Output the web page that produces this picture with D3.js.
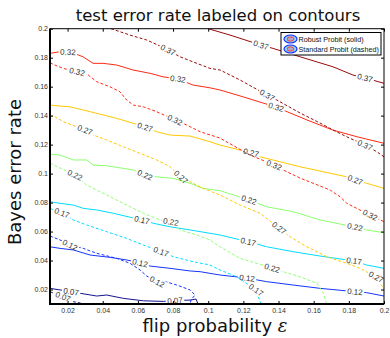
<!DOCTYPE html>
<html><head><meta charset="utf-8">
<script src="https://cdn.jsdelivr.net/npm/d3@7"></script>
<style>body{margin:0;background:#fff}</style>
</head><body><svg id="chart" width="390" height="338"></svg>
<script>
// ---------- data ----------
const xTicks = [0.02,0.04,0.06,0.08,0.1,0.12,0.14,0.16,0.18,0.2];
const xTickLabels = ["0.02","0.04","0.06","0.08","0.1","0.12","0.14","0.16","0.18","0.2"];
const yTicks = [0.02,0.04,0.06,0.08,0.1,0.12,0.14,0.16,0.18,0.2];
const yTickLabels = ["0.02","0.04","0.06","0.08","0.1","0.12","0.14","0.16","0.18","0.2"];
const levels = [0.07,0.12,0.17,0.22,0.27,0.32,0.37];
const levelLabels = ["0.07","0.12","0.17","0.22","0.27","0.32","0.37"];
const seriesNames = ["Robust Probit (solid)","Standard Probit (dashed)"];

// Robust Probit (solid) contour lines: [flip prob, Bayes error]
const robust007 = [[0.01,0.0208],[0.0157,0.0197],[0.022,0.0185],[0.0271,0.0174],[0.0366,0.0155],[0.0423,0.0162],[0.0517,0.0139],[0.0631,0.0122],[0.0745,0.0118],[0.0811,0.0124],[0.0897,0.0127],[0.0931,0.0134],[0.0942,0.01]];
const robust007Lbl = [[0.022,0.0185],[0.0811,0.0124]];
const robust012 = [[0.01,0.0495],[0.0157,0.0484],[0.0233,0.0473],[0.0328,0.0438],[0.0441,0.0422],[0.0536,0.0404],[0.0612,0.0383],[0.0669,0.0362],[0.0783,0.0346],[0.0897,0.0328],[0.0954,0.0323],[0.1067,0.03],[0.1221,0.0279],[0.1333,0.0254],[0.1483,0.0231],[0.1636,0.0208],[0.1835,0.0185],[0.1902,0.0178],[0.2,0.0155]];
const robust012Lbl = [[0.0612,0.0383],[0.1221,0.0279],[0.1835,0.0185]];
const robust017 = [[0.01,0.0806],[0.0157,0.0795],[0.0233,0.0783],[0.0289,0.076],[0.0366,0.0749],[0.046,0.0726],[0.0623,0.068],[0.0688,0.0657],[0.0783,0.0633],[0.0897,0.0611],[0.101,0.0588],[0.1067,0.0576],[0.1227,0.053],[0.1333,0.0495],[0.1483,0.0461],[0.1636,0.0431],[0.183,0.0397],[0.1902,0.0369],[0.2,0.0346]];
const robust017Lbl = [[0.0623,0.068],[0.1227,0.053],[0.183,0.0397]];
const robust022 = [[0.01,0.1133],[0.0157,0.1128],[0.0233,0.1094],[0.0309,0.1094],[0.0346,0.1059],[0.0423,0.1054],[0.0517,0.1036],[0.0574,0.1025],[0.0641,0.099],[0.0707,0.0978],[0.08,0.0967],[0.0897,0.0933],[0.0971,0.0898],[0.1067,0.0882],[0.1232,0.0818],[0.1333,0.0771],[0.1483,0.0737],[0.1636,0.068],[0.1835,0.0631],[0.1902,0.0611],[0.2,0.0592]];
const robust022Lbl = [[0.0641,0.099],[0.1232,0.0818],[0.1835,0.0631]];
const robust027 = [[0.01,0.1473],[0.0157,0.1466],[0.0214,0.1461],[0.0289,0.1439],[0.0366,0.1416],[0.048,0.1381],[0.0574,0.1347],[0.0641,0.1321],[0.0707,0.1289],[0.0783,0.1266],[0.0897,0.1259],[0.101,0.122],[0.1067,0.1197],[0.1244,0.1144],[0.1295,0.1116],[0.1523,0.1047],[0.1788,0.0978],[0.1836,0.0956],[0.1902,0.0933],[0.2,0.0898]];
const robust027Lbl = [[0.0641,0.1321],[0.1244,0.1144],[0.1836,0.0956]];
const robust032 = [[0.01,0.183],[0.0157,0.1841],[0.0202,0.1839],[0.0252,0.1823],[0.0288,0.1806],[0.0345,0.1761],[0.0402,0.1761],[0.048,0.1749],[0.0572,0.1715],[0.0669,0.1692],[0.0743,0.1668],[0.0828,0.1653],[0.0914,0.1611],[0.101,0.1592],[0.1067,0.1577],[0.1198,0.153],[0.1386,0.1459],[0.1449,0.1427],[0.1562,0.137],[0.171,0.13],[0.1847,0.1254],[0.2,0.1209]];
const robust032Lbl = [[0.0202,0.1839],[0.0828,0.1653],[0.1386,0.1459]];
const robust037 = [[0.1,0.2],[0.1124,0.1956],[0.13,0.1887],[0.1369,0.1864],[0.1523,0.1806],[0.171,0.1737],[0.1824,0.168],[0.1892,0.166],[0.2,0.1623]];
const robust037Lbl = [[0.13,0.1887],[0.1892,0.166]];

// Standard Probit (dashed) contour lines
const standard007 = [[0.01,0.0185],[0.0174,0.015],[0.0233,0.0116],[0.03,0.01]];
const standard007Lbl = [[0.0174,0.015]];
const standard012 = [[0.01,0.0569],[0.0157,0.0542],[0.0214,0.0507],[0.0289,0.0484],[0.0366,0.045],[0.048,0.0415],[0.0555,0.0381],[0.0612,0.0335],[0.065,0.0293],[0.0709,0.0254],[0.0764,0.0252],[0.0821,0.0231],[0.0897,0.0197],[0.0925,0.0162],[0.0902,0.0128],[0.0897,0.01]];
const standard012Lbl = [[0.0214,0.0507],[0.0709,0.0254]];
const standard017 = [[0.01,0.076],[0.0168,0.0728],[0.0233,0.068],[0.0309,0.0645],[0.0423,0.0599],[0.0536,0.0553],[0.0631,0.0507],[0.0732,0.0461],[0.0802,0.0426],[0.0915,0.0392],[0.101,0.0369],[0.1067,0.0335],[0.1162,0.0288],[0.1215,0.0245],[0.1272,0.0197],[0.1295,0.0116],[0.13,0.01]];
const standard017Lbl = [[0.0168,0.0728],[0.0732,0.0461],[0.1272,0.0197]];
const standard022 = [[0.01,0.1071],[0.0242,0.099],[0.0309,0.0921],[0.0423,0.0852],[0.0536,0.0783],[0.0631,0.0726],[0.0726,0.068],[0.0788,0.0666],[0.084,0.0611],[0.0935,0.0576],[0.101,0.0542],[0.1067,0.0495],[0.1181,0.0415],[0.1363,0.0348],[0.1427,0.0323],[0.1523,0.0288],[0.1618,0.0243],[0.1655,0.0174],[0.1674,0.01]];
const standard022Lbl = [[0.0242,0.099],[0.0788,0.0666],[0.1363,0.0348]];
const standard027 = [[0.01,0.1404],[0.0128,0.1392],[0.0176,0.1358],[0.0299,0.1301],[0.0346,0.1266],[0.0423,0.1232],[0.0517,0.1185],[0.0612,0.114],[0.0707,0.1094],[0.0783,0.1047],[0.0845,0.0976],[0.0914,0.0933],[0.0971,0.0898],[0.1067,0.0852],[0.1181,0.0783],[0.1295,0.0726],[0.1403,0.0624],[0.1466,0.0564],[0.1561,0.0495],[0.1674,0.0426],[0.1788,0.0381],[0.1864,0.0346],[0.1955,0.0286],[0.2,0.0205]];
const standard027Lbl = [[0.0299,0.1301],[0.0845,0.0976],[0.1403,0.0624],[0.1955,0.0286]];
const standard032 = [[0.01,0.1765],[0.0128,0.1749],[0.0176,0.1726],[0.0254,0.1703],[0.0318,0.168],[0.0366,0.1634],[0.0441,0.1599],[0.0498,0.1565],[0.0536,0.1508],[0.0574,0.1473],[0.0631,0.1461],[0.0707,0.1427],[0.0811,0.137],[0.0878,0.1335],[0.0954,0.1289],[0.1067,0.1245],[0.1238,0.1128],[0.1375,0.1059],[0.1426,0.1025],[0.1523,0.0969],[0.1693,0.0887],[0.175,0.084],[0.1788,0.0795],[0.1845,0.076],[0.1921,0.0714],[0.2,0.0668]];
const standard032Lbl = [[0.0254,0.1703],[0.0811,0.137],[0.1375,0.1059],[0.1921,0.0714]];
const standard037 = [[0.0447,0.2],[0.0555,0.1956],[0.065,0.1922],[0.0714,0.1887],[0.0771,0.1853],[0.084,0.1806],[0.0935,0.1761],[0.101,0.1726],[0.1067,0.1715],[0.1181,0.1646],[0.1335,0.1542],[0.139,0.1508],[0.1523,0.1418],[0.1636,0.1349],[0.171,0.1301],[0.1788,0.1254],[0.1892,0.1197],[0.1959,0.1151],[0.2,0.1116]];
const standard037Lbl = [[0.0771,0.1853],[0.1335,0.1542],[0.1892,0.1197]];

// ---------- styles ----------
const levelColors = ["#14148f","#1434ff","#00dcff","#8cff6e","#ffc800","#ff2a14","#9a0a0a"];
const W = 390, H = 338;
const M = {left:50, right:384, top:28.7, bottom:304};

const contours = [
  {lv:0,pts:robust007,lbl:robust007Lbl,dash:false},
  {lv:1,pts:robust012,lbl:robust012Lbl,dash:false},
  {lv:2,pts:robust017,lbl:robust017Lbl,dash:false},
  {lv:3,pts:robust022,lbl:robust022Lbl,dash:false},
  {lv:4,pts:robust027,lbl:robust027Lbl,dash:false},
  {lv:5,pts:robust032,lbl:robust032Lbl,dash:false},
  {lv:6,pts:robust037,lbl:robust037Lbl,dash:false},
  {lv:0,pts:standard007,lbl:standard007Lbl,dash:true},
  {lv:1,pts:standard012,lbl:standard012Lbl,dash:true},
  {lv:2,pts:standard017,lbl:standard017Lbl,dash:true},
  {lv:3,pts:standard022,lbl:standard022Lbl,dash:true},
  {lv:4,pts:standard027,lbl:standard027Lbl,dash:true},
  {lv:5,pts:standard032,lbl:standard032Lbl,dash:true},
  {lv:6,pts:standard037,lbl:standard037Lbl,dash:true}
];

const svg = d3.select("#chart");
svg.append("rect").attr("width",W).attr("height",H).attr("fill","#fff");
const x = d3.scaleLinear().domain([0.01,0.2]).range([M.left,M.right]);
const y = d3.scaleLinear().domain([0.01,0.2]).range([M.bottom,M.top]);

const defs = svg.append("defs");
defs.append("clipPath").attr("id","plotclip").append("rect")
  .attr("x",M.left).attr("y",M.top).attr("width",M.right-M.left).attr("height",M.bottom-M.top);

const line = d3.line().x(d=>x(d[0])).y(d=>y(d[1]));

function labelAngle(pp, lp){
  let best=Infinity, ang=0;
  for(let i=0;i<pp.length-1;i++){
    const [x1,y1]=pp[i],[x2,y2]=pp[i+1];
    const dx=x2-x1, dy=y2-y1, L=dx*dx+dy*dy;
    let t=L?((lp[0]-x1)*dx+(lp[1]-y1)*dy)/L:0; t=Math.max(0,Math.min(1,t));
    const px=x1+t*dx, py=y1+t*dy, dd=(px-lp[0])**2+(py-lp[1])**2;
    if(dd<best){best=dd; ang=Math.atan2(dy,dx)*180/Math.PI;}
  }
  if(ang>90) ang-=180; if(ang<-90) ang+=180;
  return ang;
}

const plot = svg.append("g").attr("clip-path","url(#plotclip)");
const labelG = svg.append("g");

contours.forEach((c,ci)=>{
  const pp = c.pts.map(d=>[x(d[0]),y(d[1])]);
  const labs = c.lbl.map(l=>{
    const lp=[x(l[0]),y(l[1])];
    const a=labelAngle(pp,lp);
    const t=labelG.append("text")
      .attr("transform",`translate(${lp[0]},${lp[1]}) rotate(${a})`)
      .attr("text-anchor","middle").attr("dy","0.35em")
      .attr("font-family","Liberation Sans, Arial, sans-serif").attr("font-size",8)
      .attr("fill","#333").text(levelLabels[c.lv]);
    return {lp,a,w:t.node().getComputedTextLength()};
  });
  const mask = defs.append("mask").attr("id","m"+ci).attr("maskUnits","userSpaceOnUse")
    .attr("x",0).attr("y",0).attr("width",W).attr("height",H);
  mask.append("rect").attr("width",W).attr("height",H).attr("fill","#fff");
  labs.forEach(l=>{
    mask.append("rect").attr("x",-l.w/2-1.5).attr("y",-4).attr("width",l.w+3).attr("height",8)
      .attr("transform",`translate(${l.lp[0]},${l.lp[1]}) rotate(${l.a})`).attr("fill","#000");
  });
  plot.append("path").attr("d",line(c.pts)).attr("fill","none")
    .attr("stroke",levelColors[c.lv]).attr("stroke-width",1)
    .attr("stroke-dasharray",c.dash?"3,2":null)
    .attr("mask",`url(#m${ci})`);
});

// axes
const fmtX=(d,i)=>xTickLabels[i], fmtY=(d,i)=>yTickLabels[i];
const axFont = g=>g.selectAll("text").attr("font-family","Liberation Sans, Arial, sans-serif").attr("font-size",7).attr("fill","#333");
svg.append("g").attr("transform",`translate(0,${M.bottom})`)
  .call(d3.axisBottom(x).tickValues(xTicks).tickFormat(fmtX).tickSizeInner(-3).tickSizeOuter(0).tickPadding(4))
  .call(g=>g.select(".domain").remove()).call(axFont);
svg.append("g").attr("transform",`translate(${M.left},0)`)
  .call(d3.axisLeft(y).tickValues(yTicks).tickFormat(fmtY).tickSizeInner(-3).tickSizeOuter(0).tickPadding(2))
  .call(g=>g.select(".domain").remove()).call(axFont);
svg.append("g").attr("transform",`translate(0,${M.top})`)
  .call(d3.axisTop(x).tickValues(xTicks).tickFormat("").tickSizeInner(-3).tickSizeOuter(0))
  .call(g=>g.select(".domain").remove());
svg.append("g").attr("transform",`translate(${M.right},0)`)
  .call(d3.axisRight(y).tickValues(yTicks).tickFormat("").tickSizeInner(-3).tickSizeOuter(0))
  .call(g=>g.select(".domain").remove());

// frame
svg.append("rect").attr("x",M.left).attr("y",M.top).attr("width",M.right-M.left).attr("height",M.bottom-M.top)
  .attr("fill","none").attr("stroke","#000").attr("stroke-width",1);
svg.append("line").attr("x1",M.left).attr("x2",M.left).attr("y1",M.top).attr("y2",M.bottom+1).attr("stroke","#000").attr("stroke-width",2);
svg.append("line").attr("x1",M.left-1).attr("x2",M.right).attr("y1",M.bottom).attr("y2",M.bottom).attr("stroke","#000").attr("stroke-width",2);

// legend
const lg = svg.append("g");
lg.append("rect").attr("x",281).attr("y",32.5).attr("width",100).attr("height",22.5)
  .attr("fill","#fff").attr("stroke","#000").attr("stroke-width",1);
seriesNames.forEach((s,i)=>{
  const cy = 39 + i*10;
  lg.append("ellipse").attr("cx",290.5).attr("cy",cy).attr("rx",6.5).attr("ry",4)
    .attr("fill","#7fe6ff").attr("stroke","#1a2cff").attr("stroke-width",1.2);
  lg.append("ellipse").attr("cx",290.5).attr("cy",cy).attr("rx",3.5).attr("ry",2.2)
    .attr("fill","#b7a3c8").attr("stroke","#ff3a3a").attr("stroke-width",1);
  lg.append("text").attr("x",298.5).attr("y",cy+2.5)
    .attr("font-family","Liberation Sans, Arial, sans-serif").attr("font-size",7.2).attr("fill","#111").text(s);
});

// titles
svg.append("text").attr("x",218).attr("y",20.5).attr("text-anchor","middle")
  .attr("font-family","DejaVu Sans, sans-serif").attr("font-size",16.5).attr("fill","#111")
  .text("test error rate labeled on contours");
const xl = svg.append("text").attr("x",215).attr("y",331.5).attr("text-anchor","middle")
  .attr("font-family","DejaVu Sans, sans-serif").attr("font-size",18).attr("fill","#111");
xl.append("tspan").text("flip probability ");
xl.append("tspan").attr("font-family","DejaVu Serif, serif").attr("font-style","italic").text("ε");
svg.append("text").attr("transform","translate(21,172) rotate(-90)").attr("text-anchor","middle")
  .attr("font-family","DejaVu Sans, sans-serif").attr("font-size",18).attr("fill","#111")
  .text("Bayes error rate");
</script></body></html>
